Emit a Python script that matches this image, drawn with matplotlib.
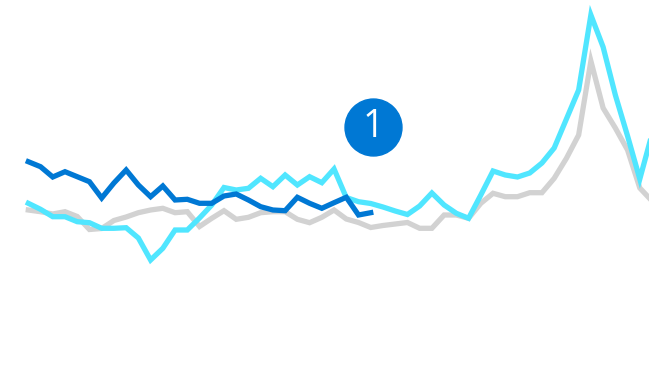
import matplotlib
matplotlib.use("Agg")
import matplotlib.pyplot as plt
import numpy as np

# Series values (arbitrary units)
dark_blue = [219.3, 214.3, 204, 209.3, 204.3, 199.3, 183, 198, 211, 196, 184.3,
             195, 181, 181.7, 177.7, 177.7, 185, 187, 181, 174.3, 171, 170.3,
             183.7, 177.7, 172.7, 178.3, 183.7, 166, 168.3]
cyan = [177.7, 171.7, 164.3, 164.3, 159.3, 158.3, 152.7, 152.7, 153.3, 143, 121,
        132.7, 151, 151, 163, 176, 193.5, 191, 192.7, 202.7, 194.3, 206, 196,
        204.3, 198.3, 212, 183.5, 179.3, 177.5, 174, 170, 166.5, 175, 188, 176,
        167.7, 162.7, 186, 210, 206, 204, 208, 218, 233, 262, 291, 366, 334,
        286, 245, 202, 247]
gray = [171, 169.3, 167, 169.3, 164.5, 151.5, 152.5, 160.5, 164, 168.3, 171,
        172.7, 168.3, 169.3, 154.5, 162.7, 170.3, 161.7, 163.7, 168.3, 169.3,
        169.3, 161.7, 158.3, 163.7, 171, 162, 158.5, 153.5, 155.5, 157, 158.5,
        152.7, 152.7, 166, 166, 162.7, 177.7, 187.7, 184.3, 184.3, 188.3, 188.3,
        202.7, 222.7, 246, 320, 273, 253, 231, 193, 180]
annotation_label = "1"

fig = plt.figure(figsize=(6.49, 3.81), dpi=100)
ax = fig.add_axes([0, 0, 1, 1])
ax.set_axis_off()

lw = 3.8
ax.plot(np.arange(len(gray)), gray, color="#D2D2D2", lw=lw, solid_joinstyle="miter", zorder=1)
ax.plot(np.arange(len(cyan)), cyan, color="#50E6FF", lw=lw, solid_joinstyle="miter", zorder=2)
ax.plot(np.arange(len(dark_blue)), dark_blue, color="#0078D4", lw=lw, solid_joinstyle="miter", zorder=3)

# annotation bubble above the last dark-blue point
ax_x = len(dark_blue) - 1 + 0.2
ax.plot([ax_x], [254], marker="o", markersize=41, color="#0078D4", zorder=4)
ax.text(ax_x, 254, annotation_label, color="white", fontsize=27, ha="center",
        va="center", family="Open Sans", zorder=5)

ax.set_xlim(-28.3 / 12.23, (649 - 28.3) / 12.23)
ax.set_ylim(0, 381)

fig.savefig("out.png", dpi=100)
